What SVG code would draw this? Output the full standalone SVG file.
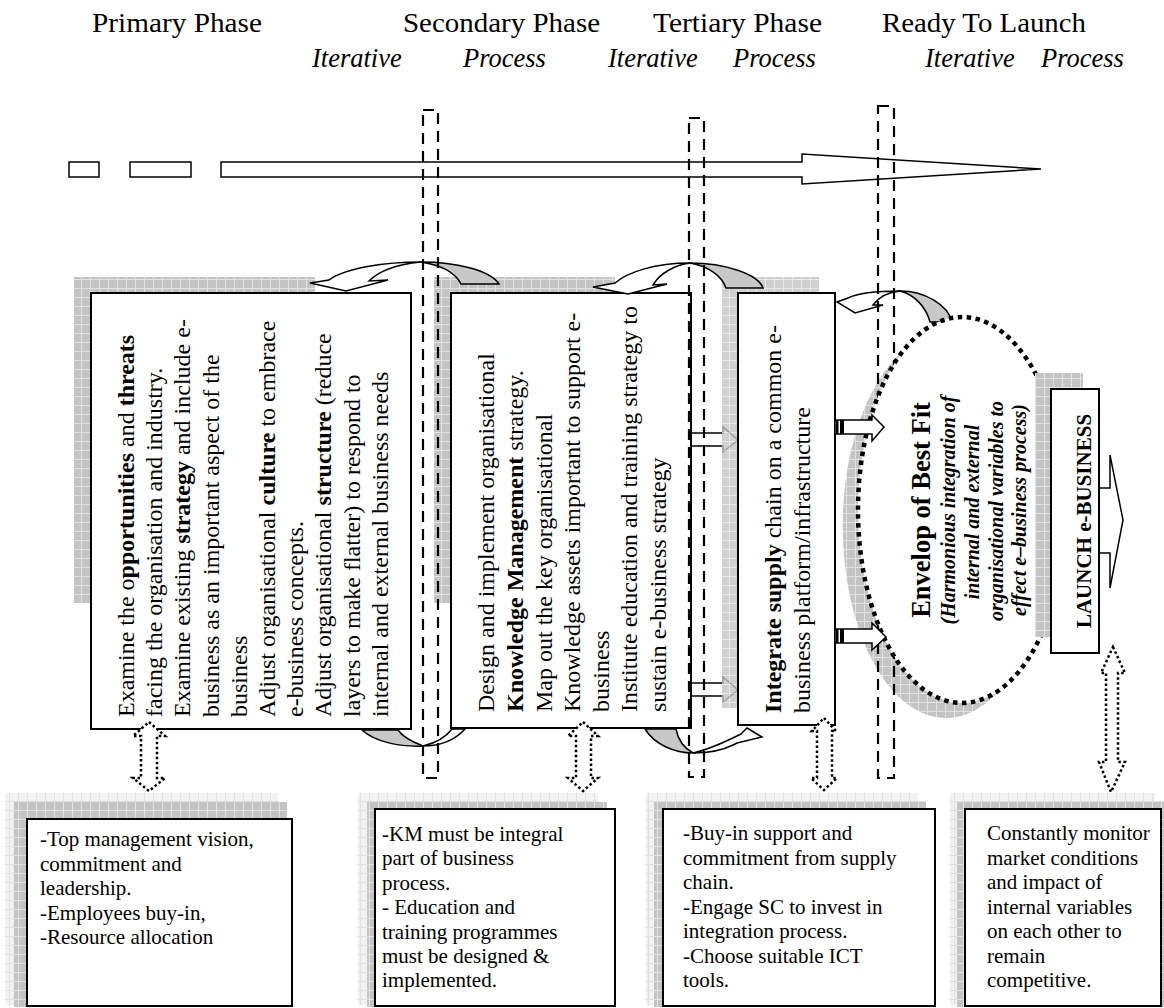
<svg xmlns="http://www.w3.org/2000/svg" width="1164" height="1008" viewBox="0 0 1164 1008">
<style>
.t{font-family:"Liberation Serif","Times New Roman",serif;fill:#000}
.vt{font-size:24px}
.bt{font-size:21px}
.b{font-weight:bold}
.box{fill:#fff;stroke:#000;stroke-width:2}
.sh{fill:url(#chk)}
.shl{fill:url(#chkl)}
.dash{fill:none;stroke:#000;stroke-width:2.2;stroke-dasharray:11 7}
.dot{fill:#fff;stroke:#000;stroke-width:2.5;stroke-dasharray:2.5 2.5}
.blk{fill:#fff;stroke:#000;stroke-width:1.5;stroke-linejoin:miter}
.gr{fill:#c8c8c8;stroke:#000;stroke-width:1.5}
</style>
<defs>
<pattern id="chk" width="9" height="9" patternUnits="userSpaceOnUse">
<rect width="9" height="9" fill="#c4c4c4"/>
<path d="M0 0.5H9M0.5 0V9" stroke="#e2e2e2" stroke-width="1"/>
</pattern>
<pattern id="chkl" width="9" height="9" patternUnits="userSpaceOnUse">
<rect width="9" height="9" fill="#f2f2f2"/>
<path d="M0 0.5H9M0.5 0V9" stroke="#e0e0e0" stroke-width="1"/>
</pattern>
</defs>
<rect width="1164" height="1008" fill="#fff"/>

<g id="phase-labels" class="t">
<text x="92" y="32" font-size="27" textLength="170" lengthAdjust="spacingAndGlyphs">Primary Phase</text>
<text x="403" y="32" font-size="27" textLength="197" lengthAdjust="spacingAndGlyphs">Secondary Phase</text>
<text x="653" y="32" font-size="27" textLength="169" lengthAdjust="spacingAndGlyphs">Tertiary Phase</text>
<text x="882" y="32" font-size="27" textLength="204" lengthAdjust="spacingAndGlyphs">Ready To Launch</text>
<g font-style="italic" font-size="26.5">
<text x="312" y="67">Iterative</text>
<text x="463" y="67">Process</text>
<text x="608" y="67">Iterative</text>
<text x="733" y="67">Process</text>
<text x="925" y="67">Iterative</text>
<text x="1041" y="67">Process</text>
</g>
</g>

<g id="timeline">
<rect class="blk" x="69" y="162" width="30" height="15"/>
<rect class="blk" x="130" y="162" width="61" height="15"/>
<path class="blk" d="M221,162 H802 V154 L1041,169 L802,184 V177 H221 Z"/>
</g>

<!-- shadows of main boxes -->
<g id="shadows">
<rect class="sh" x="74" y="277" width="241" height="326"/>
<rect class="sh" x="434" y="277" width="181" height="326"/>
</g>

<g id="connectors">
<!-- secondary -> tertiary arrows -->
<path class="blk" d="M691,433 H723 V427 L738,440 L723,452 V446 H691 Z"/>
<path class="blk" d="M691,683 H723 V677 L738,690 L723,702 V696 H691 Z"/>
</g>

<rect class="sh" x="722" y="277" width="97" height="431" opacity="0.8"/>

<g id="node-primary">
<rect class="box" x="91" y="293" width="320" height="436"/>
<text class="t vt" transform="rotate(-90)">
<tspan x="-717" y="134">Examine the o<tspan class="b">pportunities</tspan> and <tspan class="b">threats</tspan></tspan>
<tspan x="-717" y="162.2">facing the organisation and industry.</tspan>
<tspan x="-717" y="190.4">Examine existing <tspan class="b">strategy</tspan> and include e-</tspan>
<tspan x="-717" y="218.6">business as an important aspect of the</tspan>
<tspan x="-717" y="246.8">business</tspan>
<tspan x="-717" y="275">Adjust organisational <tspan class="b">culture</tspan> to embrace</tspan>
<tspan x="-717" y="303.2">e-business concepts.</tspan>
<tspan x="-717" y="331.4">Adjust organisational <tspan class="b">structure</tspan> (reduce</tspan>
<tspan x="-717" y="359.6">layers to make flatter) to respond to</tspan>
<tspan x="-717" y="387.8">internal and external business needs</tspan>
</text>
</g>

<g id="node-secondary">
<rect class="box" x="451" y="293" width="240" height="435"/>
<text class="t vt" transform="rotate(-90)">
<tspan x="-712" y="494.3">Design and implement organisational</tspan>
<tspan x="-712" y="522.9"><tspan class="b">Knowledge Management</tspan> strategy.</tspan>
<tspan x="-712" y="551.5">Map out the key organisational</tspan>
<tspan x="-712" y="580.1">Knowledge assets important to support e-</tspan>
<tspan x="-712" y="608.7">business</tspan>
<tspan x="-712" y="637.3">Institute education and training strategy to</tspan>
<tspan x="-712" y="665.9">sustain e-business strategy</tspan>
</text>
</g>

<g id="node-tertiary">
<rect class="box" x="738" y="293" width="97" height="432"/>
<text class="t vt" transform="rotate(-90)">
<tspan x="-713" y="781"><tspan class="b">Integrate supply</tspan> chain on a common e-</tspan>
<tspan x="-713" y="809.5">business platform/infrastructure</tspan>
</text>
</g>

<g id="curved-arrows">
<path class="gr" d="M421,262 C455,262 490,270 499,284 L461,284 C455,272 440,265 421,262 Z"/>
<path class="blk" d="M421,262 C385,262 345,268 329,280 L310,283 L346,291 L388,280 L369,281 C380,270 400,264 421,262 Z"/>
<path class="gr" d="M690,263 C725,263 758,274 763,288 L726,288 C722,276 708,266 690,263 Z"/>
<path class="blk" d="M690,263 C655,263 628,272 615,283 L593,287 L628,294 L667,284 L653,285 C660,273 675,265 690,263 Z"/>
<path class="gr" d="M900,291 C925,291 948,305 952,322 L930,322 C926,307 915,295 900,291 Z"/>
<path class="blk" d="M900,291 C878,291 858,293 848,298 L837,302 L855,313 L883,305 L873,305 C879,297 889,292 900,291 Z"/>
<path class="gr" d="M362,730 C375,742 400,747 423,746 C410,741 402,736 398,730 Z"/>
<path class="blk" d="M423,746 C440,746 455,740 465,729 L452,729 C446,737 436,743 423,746 Z"/>
<path class="gr" d="M645,729 C655,745 675,753 693,753 C684,748 678,740 676,729 Z"/>
<path class="blk" d="M693,753 C710,753 725,749 733,745 L737,743 L762,737 L747,728 L741,734 C725,742 707,750 693,753 Z"/>
</g>

<ellipse id="envelop-shadow" cx="946" cy="526" rx="104" ry="193" fill="url(#chk)" stroke="#fff" stroke-width="1.5"/>

<g id="phase-dividers">
<rect class="dash" x="423" y="110" width="15" height="668"/>
<rect class="dash" x="689" y="118" width="15" height="659"/>
<rect class="dash" x="878" y="106" width="16" height="672"/>
</g>

<g id="node-envelop">
<ellipse cx="962" cy="510" rx="104" ry="193" fill="#fff" stroke="#000" stroke-width="4.5" stroke-dasharray="4.5 4.5"/>
<text class="t" transform="rotate(-90)" text-anchor="middle">
<tspan x="-508" y="930" font-size="26.5" font-weight="bold">Envelop of Best Fit</tspan>
<tspan x="-508" y="955" font-size="20" font-weight="bold" font-style="italic">(Harmonious integration of</tspan>
<tspan x="-510" y="979" font-size="20" font-weight="bold" font-style="italic">internal and external</tspan>
<tspan x="-509" y="1003" font-size="20" font-weight="bold" font-style="italic">organisational variables to</tspan>
<tspan x="-510" y="1026" font-size="20" font-weight="bold" font-style="italic">effect e–business process)</tspan>
</text>
</g>

<g id="tertiary-to-envelop">
<path class="blk" d="M835,420 H872 V415 L884,427 L872,441 V434 H835 Z"/>
<rect x="836" y="420" width="2.5" height="14" fill="#000"/>
<rect x="840" y="420" width="4" height="14" fill="#000"/>
<path class="blk" d="M835,629 H872 V623 L886,637 L872,650 V643 H835 Z"/>
<rect x="836" y="629" width="2.5" height="14" fill="#000"/>
<rect x="840" y="629" width="4" height="14" fill="#000"/>
</g>

<g id="node-launch">
<rect class="sh" x="1035" y="373" width="48" height="264"/>
<path class="blk" d="M1099,488 H1110 V455 L1123,520 L1110,588 V553 H1099 Z"/>
<rect class="box" x="1051" y="389" width="48" height="264"/>
<text class="t b" font-size="21" transform="rotate(-90)" text-anchor="middle" x="-521" y="1091">LAUNCH e-BUSINESS</text>
</g>

<g id="vertical-links">
<path class="dot" d="M149,722 L165,736 L157,736 L157,778 L165,778 L149,791 L133,778 L141,778 L141,736 L133,736 Z"/>
<path class="dot" d="M583,722 L598,736 L591,736 L591,778 L598,778 L583,791 L568,778 L576,778 L576,736 L568,736 Z"/>
<path class="dot" d="M824,718 L836,731 L832,731 L832,778 L837,778 L824,790 L811,778 L817,778 L817,731 L812,731 Z"/>
<path class="dot" d="M1113,647 L1125,673 L1118,673 L1118,762 L1125,762 L1111,792 L1099,762 L1106,762 L1106,673 L1101,673 Z"/>
</g>

<g id="node-b1">
<rect class="shl" x="5" y="793" width="273" height="212"/>
<rect class="sh" x="14" y="802" width="273" height="205"/>
<rect class="box" x="27" y="819" width="265" height="187"/>
<text class="t bt">
<tspan x="40" y="846">-Top management vision,</tspan>
<tspan x="40" y="870.5">commitment and</tspan>
<tspan x="40" y="895">leadership.</tspan>
<tspan x="40" y="919.5">-Employees buy-in,</tspan>
<tspan x="40" y="944">-Resource allocation</tspan>
</text>
</g>

<g id="node-b2">
<rect class="shl" x="358" y="793" width="240" height="212"/>
<rect class="sh" x="367" y="802" width="240" height="205"/>
<rect class="box" x="375" y="809" width="240" height="197"/>
<text class="t bt">
<tspan x="382" y="841">-KM must be integral</tspan>
<tspan x="382" y="865.4">part of business</tspan>
<tspan x="382" y="889.8">process.</tspan>
<tspan x="382" y="914.2">- Education and</tspan>
<tspan x="382" y="938.6">training programmes</tspan>
<tspan x="382" y="963">must be designed &amp;</tspan>
<tspan x="382" y="987.4">implemented.</tspan>
</text>
</g>

<g id="node-b3">
<rect class="shl" x="646" y="793" width="272" height="212"/>
<rect class="sh" x="654" y="801" width="272" height="206"/>
<rect class="box" x="663" y="809" width="272" height="197"/>
<text class="t bt">
<tspan x="683" y="840">-Buy-in support and</tspan>
<tspan x="683" y="864.5">commitment from supply</tspan>
<tspan x="683" y="889">chain.</tspan>
<tspan x="683" y="913.5">-Engage SC to invest in</tspan>
<tspan x="683" y="938">integration process.</tspan>
<tspan x="683" y="962.5">-Choose suitable ICT</tspan>
<tspan x="683" y="987">tools.</tspan>
</text>
</g>

<g id="node-b4">
<rect class="shl" x="950" y="793" width="205" height="212"/>
<rect class="sh" x="957" y="801" width="207" height="206"/>
<rect class="box" x="965" y="809" width="196" height="197"/>
<text class="t bt">
<tspan x="987" y="840">Constantly monitor</tspan>
<tspan x="987" y="864.5">market conditions</tspan>
<tspan x="987" y="889">and impact of</tspan>
<tspan x="987" y="913.5">internal variables</tspan>
<tspan x="987" y="938">on each other to</tspan>
<tspan x="987" y="962.5">remain</tspan>
<tspan x="987" y="987">competitive.</tspan>
</text>
</g>
</svg>
